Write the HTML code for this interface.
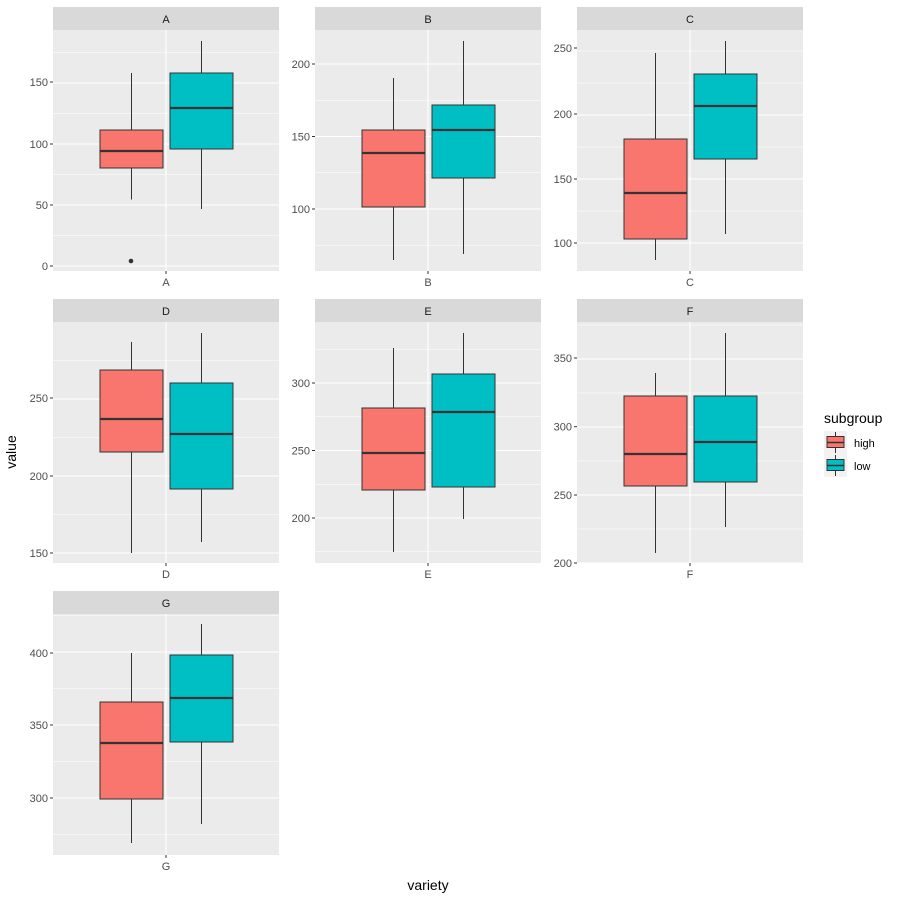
<!DOCTYPE html>
<html><head><meta charset="utf-8"><style>
html,body{margin:0;padding:0;background:#fff;}
svg text{font-family:"Liberation Sans",Arial,sans-serif;}
</style></head><body>
<svg id="s" width="900" height="900" xmlns="http://www.w3.org/2000/svg"></svg>
<script>
var P=[
 {n:"A",x:53,y:30,ticks:[[0,266],[50,205],[100,144],[150,82]],
  h:[73,130,151,168,199.5],l:[41,73,108,149,209],out:[[131,261]]},
 {n:"B",x:315,y:30,ticks:[[100,209],[150,136.5],[200,64]],
  h:[78,130,153,207,260],l:[41,105,130,178,254]},
 {n:"C",x:577,y:30,ticks:[[100,243],[150,179],[200,114],[250,48]],
  h:[53,139,193,239,260],l:[41,74,106,159,234]},
 {n:"D",x:53,y:322,ticks:[[150,553],[200,476],[250,398]],
  h:[342,370,419,452,553],l:[333,383,434,489,542]},
 {n:"E",x:315,y:322,ticks:[[200,518],[250,450.5],[300,383]],
  h:[348,408,453,490,552],l:[333,374,412,487,519]},
 {n:"F",x:577,y:322,ticks:[[200,563],[250,495],[300,426.7],[350,358]],
  h:[373,396,454,486,553],l:[333,396,442,482,527]},
 {n:"G",x:53,y:614,ticks:[[300,798],[350,725],[400,653]],
  h:[653,702,743,799,843],l:[624,655,698,742,824]}
];
var W=226,H=241,o='';
P.forEach(function(p){
 var x=p.x,y=p.y;
 o+='<rect x="'+x+'" y="'+(y-23)+'" width="'+W+'" height="23" fill="#d9d9d9"/>';
 o+='<text x="'+(x+W/2)+'" y="'+(y-7)+'" font-size="11" fill="#1a1a1a" text-anchor="middle">'+p.n+'</text>';
 o+='<rect x="'+x+'" y="'+y+'" width="'+W+'" height="'+H+'" fill="#ebebeb"/>';
 var t=p.ticks,st=(t[0][1]-t[1][1])/2;
 for(var g=t[0][1]+st;g>y;g-=st*2){}
 var yy=t[0][1];while(yy+st<y+H)yy+=st;
 for(;yy>y;yy-=st){
  if(yy>y+H)continue;
  var maj=t.some(function(k){return Math.abs(k[1]-yy)<1.5;});
  o+='<line x1="'+x+'" x2="'+(x+W)+'" y1="'+yy+'" y2="'+yy+'" stroke="#fff" stroke-width="'+(maj?1.1:0.55)+'"/>';
 }
 var cx=x+W/2;
 o+='<line x1="'+cx+'" x2="'+cx+'" y1="'+y+'" y2="'+(y+H)+'" stroke="#fff" stroke-width="1.1"/>';
 t.forEach(function(k){
  o+='<line x1="'+(x-3)+'" x2="'+x+'" y1="'+k[1]+'" y2="'+k[1]+'" stroke="#333" stroke-width="1"/>';
  o+='<text x="'+(x-5)+'" y="'+(k[1]+4)+'" font-size="11" fill="#4d4d4d" text-anchor="end">'+k[0]+'</text>';
 });
 o+='<line x1="'+cx+'" x2="'+cx+'" y1="'+(y+H)+'" y2="'+(y+H+3)+'" stroke="#333"/>';
 o+='<text x="'+cx+'" y="'+(y+H+15)+'" font-size="11" fill="#4d4d4d" text-anchor="middle">'+p.n+'</text>';
 [[p.h,x+47,"#f8766d"],[p.l,x+117,"#00bfc4"]].forEach(function(b){
  var v=b[0],bx=b[1],bw=63,mx=bx+bw/2;
  o+='<line x1="'+mx+'" x2="'+mx+'" y1="'+v[0]+'" y2="'+v[4]+'" stroke="#333" stroke-width="1"/>';
  o+='<rect x="'+bx+'" y="'+v[1]+'" width="'+bw+'" height="'+(v[3]-v[1])+'" fill="'+b[2]+'" stroke="#333" stroke-width="1"/>';
  o+='<line x1="'+bx+'" x2="'+(bx+bw)+'" y1="'+v[2]+'" y2="'+v[2]+'" stroke="#333" stroke-width="2.2"/>';
 });
 (p.out||[]).forEach(function(q){o+='<circle cx="'+q[0]+'" cy="'+q[1]+'" r="2.3" fill="#333"/>';});
});
o+='<text x="16" y="452" font-size="14" fill="#000" text-anchor="middle" transform="rotate(-90 16 452)">value</text>';
o+='<text x="428" y="890" font-size="14" fill="#000" text-anchor="middle">variety</text>';
o+='<text x="824" y="423" font-size="14" fill="#000">subgroup</text>';
[["high","#f8766d",431],["low","#00bfc4",454]].forEach(function(k){
 var y=k[2];
 o+='<rect x="824" y="'+y+'" width="23" height="23" fill="#f2f2f2"/>';
 o+='<line x1="835.5" x2="835.5" y1="'+(y+1)+'" y2="'+(y+22)+'" stroke="#333"/>';
 o+='<rect x="827" y="'+(y+5.5)+'" width="17" height="11" fill="'+k[1]+'" stroke="#333"/>';
 o+='<line x1="827" x2="844" y1="'+(y+11.5)+'" y2="'+(y+11.5)+'" stroke="#333" stroke-width="1.5"/>';
 o+='<text x="854" y="'+(y+16)+'" font-size="11" fill="#000">'+k[0]+'</text>';
});
document.getElementById('s').innerHTML=o;
</script>
</body></html>
